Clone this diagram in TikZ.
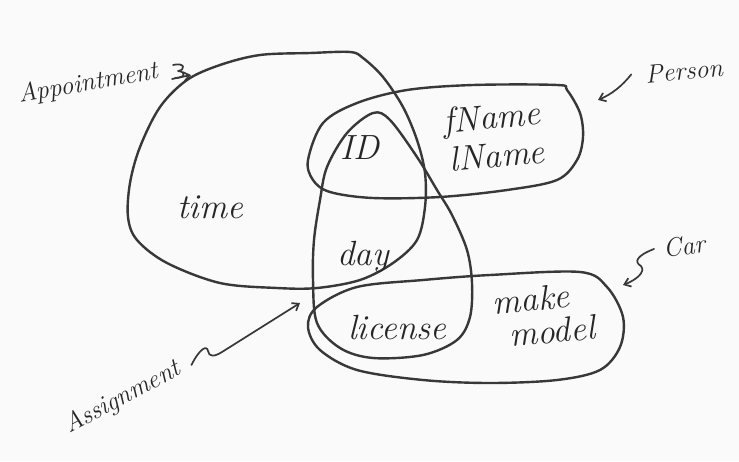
\documentclass[tikz,border=0pt]{standalone}
\usetikzlibrary{arrows.meta}
\begin{document}
\begin{tikzpicture}[x=1pt,y=-1pt,
	pen/.style={line width=2.4pt, draw=black!78, line cap=round, line join=round},
	word/.style={font=\fontsize{35}{38}\selectfont\itshape, text=black!85, inner sep=0pt},
	tag/.style={font=\fontsize{26}{30}\selectfont\itshape, text=black!85, inner sep=0pt},
	hand/.style={pen, line width=1.7pt, -{Straight Barb[length=6pt,width=9pt]}}]
	\fill[black!2] (0,0) rectangle (739,461);
	% the four sets
	\draw[pen] plot[smooth cycle, tension=0.55] coordinates {(350,52) (310,53) (260,55) (220,65) (187,80) (160,107) (140,147) (130,183) (128,217) (137,240) (167,263) (220,283) (277,288) (317,288) (360,280) (393,263) (417,240) (425,207) (425,173) (417,140) (403,107) (383,77) (363,58)};
	\draw[pen] plot[smooth cycle, tension=0.55] coordinates {(308,160) (323,123) (357,103) (407,90) (473,85) (557,85) (567,90) (580,113) (583,137) (577,160) (557,180) (507,190) (440,197) (373,198) (330,192) (313,180)};
	\draw[pen] plot[smooth cycle, tension=0.55] coordinates {(373,113) (347,133) (327,167) (320,200) (314,240) (313,280) (317,323) (340,348) (373,358) (423,355) (457,340) (470,317) (472,283) (467,250) (452,215) (437,190) (417,157) (390,120)};
	\draw[pen] plot[smooth cycle, tension=0.55] coordinates {(308,327) (317,307) (357,287) (423,280) (490,275) (580,272) (607,287) (623,317) (620,347) (600,370) (557,380) (490,383) (423,380) (357,370) (320,350)};
	% attributes
	\node[word] (time) at (210,207) {time};
	\node[word] (id) at (360,148) {ID};
	\node[word, rotate=5] (fname) at (492,120) {fName};
	\node[word, rotate=5] (lname) at (497,155) {lName};
	\node[word] (day) at (363,257) {day};
	\node[word] (license) at (397,328) {license};
	\node[word, rotate=5] (make) at (531,299) {make};
	\node[word, rotate=5] (model) at (552,331) {model};
	% set names
	\node[tag, rotate=10] (appt) at (88,84) {Appointment};
	\node[tag, rotate=5] (person) at (684,71) {Person};
	\node[tag, rotate=8] (car) at (684,246) {Car};
	\node[tag, rotate=28] (assign) at (123,398) {Assignment};
	\coordinate (apptTip) at (191,75);
	\coordinate (personTip) at (598,100);
	\coordinate (carTip) at (623,285);
	\coordinate (assignTip) at (300,303);
	\draw[pen, line width=1.7pt] (173,65) .. controls (185,62) and (186,70) .. (178,71) .. controls (187,72) and (185,78) .. (175,78);
	\draw[hand] (172,79) -- (apptTip);
	\draw[hand] ([xshift=-14pt]person.west) .. controls (622,86) and (612,94) .. (personTip);
	\draw[hand] ([xshift=-9pt]car.west) .. controls (636,256) and (634,262) .. (641,266) .. controls (646,272) and (636,280) .. (carTip);
	\draw[hand] ([shift={(12,-3)}]assign.east) .. controls (200,348) and (207,345) .. (208,351) .. controls (209,357) and (214,357) .. (222,352) -- (assignTip);
\end{tikzpicture}
\end{document}
